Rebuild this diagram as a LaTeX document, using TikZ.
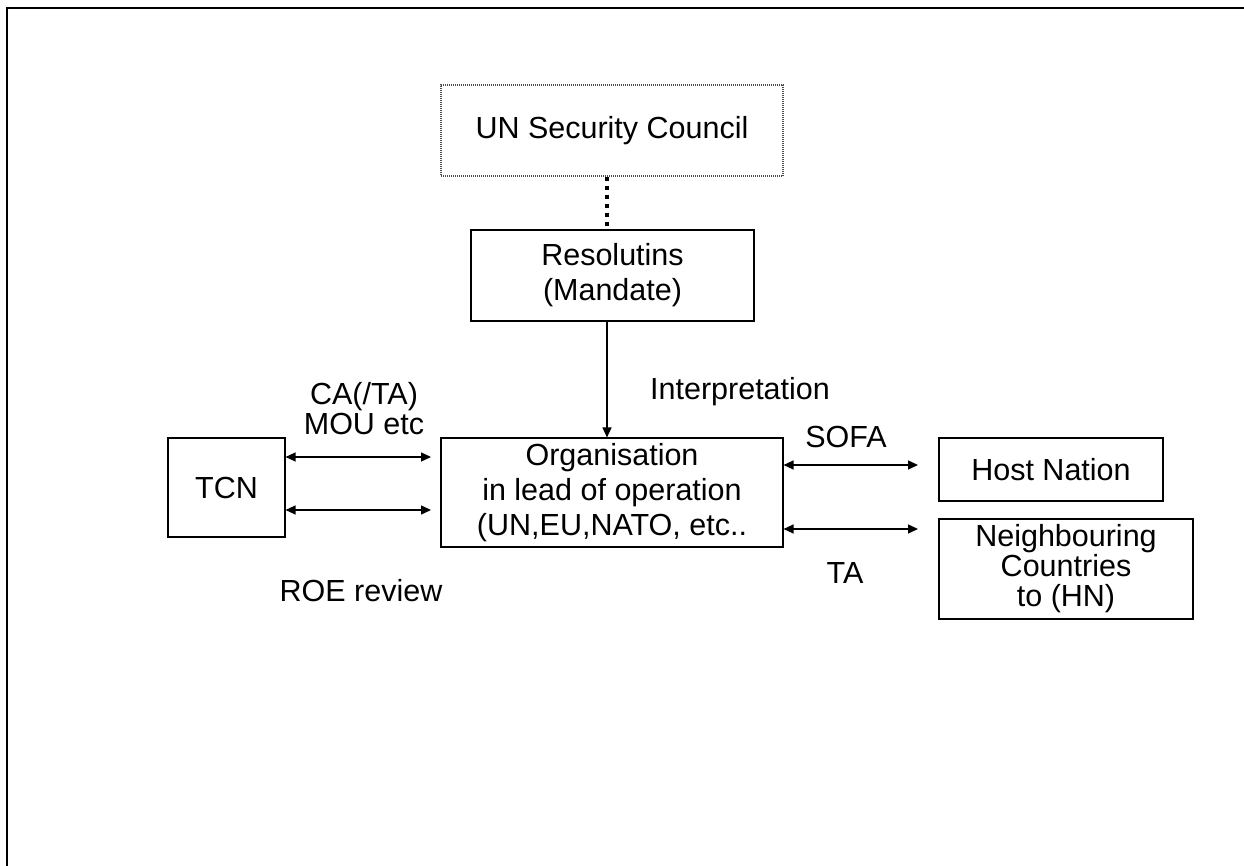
\documentclass[tikz,border=0pt]{standalone}
\usepackage{fontspec}
\setmainfont{Liberation Sans}
\usetikzlibrary{arrows.meta}
\tikzset{
  box/.style={draw=black, line width=1.1pt, inner sep=0pt, align=center,
    font=\fontsize{30.5}{35}\selectfont},
  tightbox/.style={box, font=\fontsize{30.5}{30}\selectfont},
  dotbox/.style={box, draw=black!70, dash pattern=on 1pt off 1pt},
  lbl/.style={inner sep=0pt, align=center, font=\fontsize{30.5}{30}\selectfont},
  conn/.style={line width=1.3pt},
  twoway/.style={conn, {Triangle[length=10pt,width=9pt]}-{Triangle[length=10pt,width=9pt]}},
  oneway/.style={conn, -{Triangle[length=10pt,width=9pt]}},
  thickdots/.style={line width=4pt, dash pattern=on 4.5pt off 4.5pt}
}
\begin{document}
\begin{tikzpicture}[x=1pt,y=-1pt]
\useasboundingbox (0,0) rectangle (1244,866);
% outer frame (top and left edges only)
\coordinate (fl) at (7,866);
\coordinate (fc) at (7,8);
\coordinate (fr) at (1244,8);
\draw[line width=2.2pt] (fl) -- (fc) -- (fr);

% boxes
\node[dotbox, minimum width=342pt, minimum height=91pt] (unsc) at (612,130.5) {\raisebox{-3pt}{UN Security Council}};
\node[box, minimum width=283pt, minimum height=91pt] (res) at (612.5,275.5) {Resolutins\\(Mandate)};
\node[box, minimum width=342pt, minimum height=109pt] (org) at (612,492.5) {Organisation\\in lead of operation\\(UN,EU,NATO, etc..};
\node[box, minimum width=117pt, minimum height=99pt] (tcn) at (226.5,487.5) {TCN};
\node[box, minimum width=224pt, minimum height=63pt] (host) at (1051,469.5) {Host Nation};
\node[tightbox, minimum width=254pt, minimum height=100pt] (nb) at (1066,569) {Neighbouring\\Countries\\to (HN)};

% labels
\node[lbl] (interp) at (740,392) {Interpretation};
\node[lbl] (ca) at (364,409) {CA(/TA)\\MOU etc};
\node[lbl] (roe) at (361,591) {ROE review};
\node[lbl] (sofa) at (846,437) {SOFA};
\node[lbl] (ta) at (845,573) {TA};

% vertical connectors
\coordinate (cx) at (607,0);
\draw[thickdots] (unsc.south -| cx) -- (res.north -| cx);
\draw[oneway] (res.south -| cx) -- (org.north -| cx);

% left arrows
\coordinate (la) at (431,457);
\coordinate (lb) at (431,510);
\draw[twoway] (tcn.east |- la) -- (la);
\draw[twoway] (tcn.east |- lb) -- (lb);

% right arrows
\coordinate (ra) at (918,465);
\coordinate (rb) at (918,529);
\draw[twoway] (org.east |- ra) -- (ra);
\draw[twoway] (org.east |- rb) -- (rb);
\end{tikzpicture}
\end{document}
